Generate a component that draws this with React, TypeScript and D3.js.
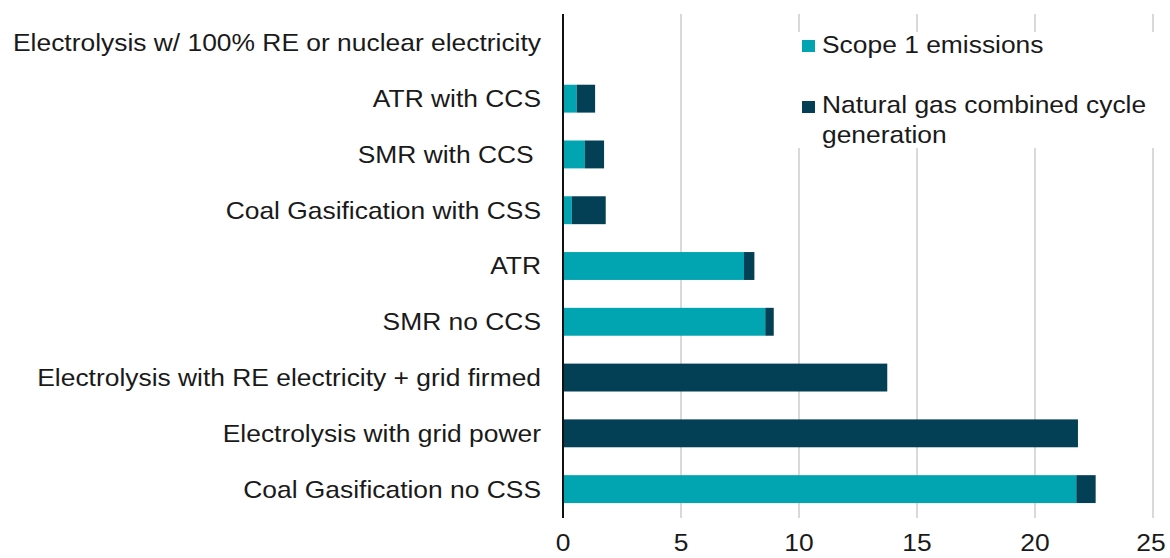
import React from 'react'
import * as d3 from 'd3'

const categories = [
  'Electrolysis w/ 100% RE or nuclear electricity',
  'ATR with CCS',
  'SMR with CCS ',
  'Coal Gasification with CSS',
  'ATR',
  'SMR no CCS',
  'Electrolysis with RE electricity + grid firmed',
  'Electrolysis with grid power',
  'Coal Gasification no CSS',
]
const scope1 = [0, 0.58, 0.93, 0.37, 7.67, 8.57, 0, 0, 21.75]
const ngcc = [0, 0.78, 0.81, 1.44, 0.44, 0.36, 13.74, 21.82, 0.82]
const seriesNames = ['Scope 1 emissions', 'Natural gas combined cycle generation']
const xTicks = [0, 5, 10, 15, 20, 25]

const colors = ['#00a5b1', '#033f55']
const W = 1170
const H = 558
const FONT = 'Liberation Sans, Arial, sans-serif'
// the source picture is a little stretched sideways
const SX = 1.1

function Label(props: { x: number; y: number; anchor?: string; size?: number; children: React.ReactNode; dy?: string }) {
  return (
    <text
      transform={`translate(${props.x},${props.y}) scale(${SX},1)`}
      dy={props.dy}
      textAnchor={props.anchor || 'start'}
      fontSize={props.size || 24}
      fill="#1a1a1a"
      style={{ whiteSpace: 'pre' }}
    >
      {props.children}
    </text>
  )
}

export default function App() {
  const x = d3.scaleLinear().domain([0, 25]).range([563, 1153])
  const y = d3
    .scaleBand()
    .domain(categories)
    .range([15, 517])
    .paddingInner(0.5)
    .paddingOuter(0.25)
  const stack = d3
    .stack<number>()
    .keys(['s', 'n'])
    .value((i, k) => (k === 's' ? scope1[i] : ngcc[i]))
  const layers = stack(categories.map((_, i) => i))
  const legendWords = seriesNames[1].split(' ')

  return (
    <svg
      width={W}
      height={H}
      style={{ position: 'absolute', left: 0, top: 0, background: '#fff' }}
      fontFamily={FONT}
    >
      {xTicks.slice(1).map(t => (
        <line key={t} x1={x(t)} x2={x(t)} y1={14} y2={518} stroke="#d9d9d9" strokeWidth={2} />
      ))}
      {layers.map((layer, li) =>
        layer.map((d, i) =>
          d[1] - d[0] > 0 ? (
            <rect
              key={li + '-' + i}
              x={x(d[0])}
              y={y(categories[i])}
              width={x(d[1]) - x(d[0])}
              height={y.bandwidth()}
              fill={colors[li]}
            />
          ) : null
        )
      )}
      <line x1={x(0)} x2={x(0)} y1={14} y2={518} stroke="#111" strokeWidth={2} />
      {categories.map(c => (
        <Label key={c} x={541} y={(y(c) ?? 0) + y.bandwidth() / 2} dy="0.35em" anchor="end">
          {c}
        </Label>
      ))}
      {xTicks.map(t => (
        <Label key={t} x={Math.min(x(t), 1151)} y={551} anchor="middle">
          {String(t)}
        </Label>
      ))}
      <g>
        <rect x={790} y={32} width={375} height={116} fill="#fff" />
        <rect x={802} y={40} width={13} height={12} fill={colors[0]} />
        <Label x={822} y={53}>{seriesNames[0]}</Label>
        <rect x={802} y={101} width={13} height={12} fill={colors[1]} />
        <Label x={822} y={113}>{legendWords.slice(0, 4).join(' ')}</Label>
        <Label x={822} y={143}>{legendWords.slice(4).join(' ')}</Label>
      </g>
    </svg>
  )
}
